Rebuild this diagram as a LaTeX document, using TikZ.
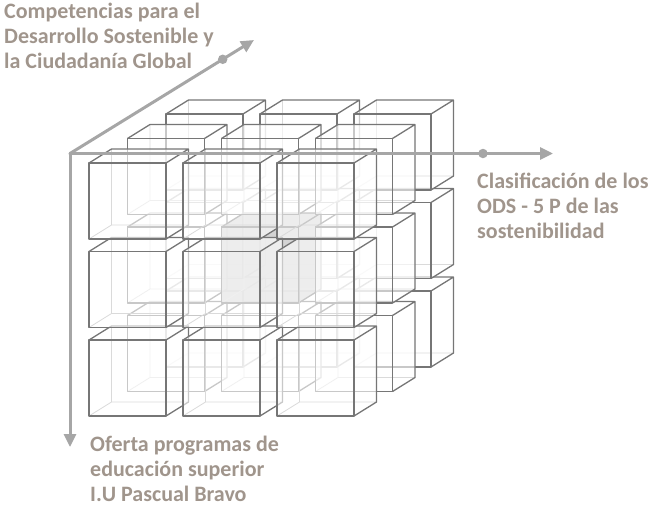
\documentclass[tikz,border=0pt]{standalone}
\usepackage{fontspec}
\setmainfont{Carlito}
\usetikzlibrary{arrows.meta}

\definecolor{edgegray}{RGB}{118,118,118}
\definecolor{hiddengray}{RGB}{218,218,218}
\definecolor{axisgray}{RGB}{166,166,166}
\definecolor{labelbrown}{RGB}{160,149,140}
\definecolor{coregray}{RGB}{208,208,208}

\tikzset{
  cubeedge/.style={draw=edgegray,line width=1.3pt,line join=round},
  cubehidden/.style={draw=hiddengray,line width=0.8pt},
  axisline/.style={draw=axisgray,line width=3pt,line cap=round,-{Triangle[length=13pt,width=12pt]}},
  axisdot/.style={circle,fill=axisgray,inner sep=0pt,minimum size=9.5pt},
  axislabel/.style={text=labelbrown,font=\bfseries\fontsize{22}{24.8}\selectfont,align=left,inner sep=0pt,anchor=north west}
}

% one cube: top-left corner of its front face at (#1,#2)
\newcommand{\drawcube}[2]{%
  \fill[fill=\cubecolor,fill opacity=\cubeop] (#1,#2+76) -- ++(77,0) -- ++(22.5,-14) -- ++(0,-76) -- ++(-77,0) -- ++(-22.5,14) -- cycle;
  \draw[cubehidden] (#1,#2+76) -- ++(22.5,-14) -- ++(77,0) (#1+22.5,#2+62) -- ++(0,-76);
  \draw[cubeedge] (#1,#2) rectangle ++(77,76);
  \draw[cubeedge] (#1,#2) -- ++(22.5,-14) -- ++(77,0) -- ++(0,76) -- ++(-22.5,14) (#1+77,#2) -- ++(22.5,-14);
}

\begin{document}
\begin{tikzpicture}[x=1pt,y=-1pt]
\useasboundingbox (0,0) rectangle (650,512);

% cubes, back layer first
\foreach \k in {2,1,0} {
  \foreach \j in {2,1,0} {
    \foreach \i in {0,1,2} {
      \pgfmathsetmacro{\cx}{89+94*\i+38.5*\k}
      \pgfmathsetmacro{\cy}{163+88.5*\j-24.5*\k}
      \pgfmathtruncatemacro{\core}{(\i==1)&&(\j==1)&&(\k==1)}
      \ifnum\core=1 \def\cubecolor{coregray}\def\cubeop{0.9}\else\def\cubecolor{white}\def\cubeop{0.6}\fi
      \drawcube{\cx}{\cy}
    }
  }
}

% axis
\coordinate (origin) at (70,153.5);
\coordinate (depthend) at (254,40);
\coordinate (rightend) at (553,153.5);
\coordinate (downend) at (70,447);
\draw[axisline] (origin) -- node[axisdot,pos=0.83] (depthdot) {} (depthend);
\draw[axisline] (origin) -- node[axisdot,pos=0.855] (rightdot) {} (rightend);
\draw[axisline] (origin) -- (downend);

% labels
\node[axislabel] (compet) at (4,3) {Competencias para el\\Desarrollo Sostenible y\\la Ciudadanía Global};
\node[axislabel] (ods) at (477,173) {Clasificación de los\\ODS - 5 P de las\\sostenibilidad};
\node[axislabel] (oferta) at (90,436) {Oferta programas de\\educación superior\\I.U Pascual Bravo};

\end{tikzpicture}
\end{document}
